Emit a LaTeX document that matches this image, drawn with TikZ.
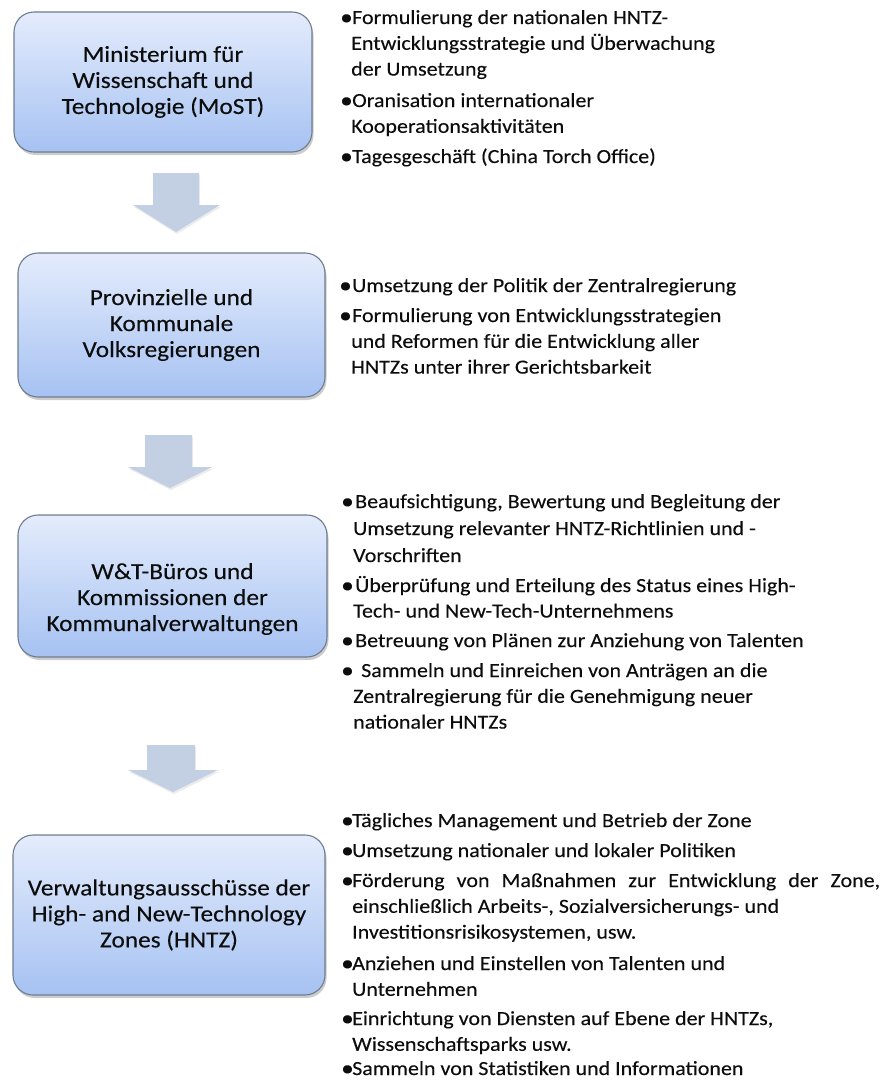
\documentclass[tikz,border=0pt]{standalone}
\usepackage{fontspec}
\setmainfont{Carlito}[FakeStretch=1.1,FakeBold=0.2]
\usetikzlibrary{shadows}
\definecolor{boxtop}{HTML}{E4ECFC}
\definecolor{boxbot}{HTML}{A6C2F2}
\definecolor{boxline}{HTML}{6F7C90}
\definecolor{arrowfill}{HTML}{C3D0E3}
\definecolor{txt}{HTML}{0D0D0D}
\tikzset{
  orgbox/.style={rounded corners=20pt, draw=boxline, line width=1.1pt,
    top color=boxtop, bottom color=boxbot,
    drop shadow={opacity=0.4, shadow xshift=1.5pt, shadow yshift=-3pt},
    align=center, text=txt, font=\fontsize{23}{26}\selectfont, inner sep=0pt},
  blockarrow/.style={fill=arrowfill, draw=none,
    drop shadow={opacity=0.15, shadow xshift=1pt, shadow yshift=-2pt}},
  item/.style={anchor=base west, inner sep=0pt, text=txt,
    font=\fontsize{20}{25.8}\selectfont},
}
\newcommand{\itm}[7][]{\node[item,#1] (#2) at (#3,#4)
  {\parbox[t]{530pt}{\raggedright\hspace*{\dimexpr#5-3pt\relax}\makebox[\dimexpr#6+3pt\relax][l]{\raisebox{-0.8pt}{\fontsize{23}{0}\selectfont\textbullet}}#7}};}
\begin{document}
\begin{tikzpicture}[x=1pt,y=-1pt]
\useasboundingbox (0,0) rectangle (885,1081);
% boxes
\node[orgbox, minimum width=298pt, minimum height=140pt] (b1) at (163,82)
  {Ministerium für\\Wissenschaft und\\Technologie (MoST)};
\node[orgbox, minimum width=307pt, minimum height=144pt] (b2) at (171.5,325)
  {Provinzielle und\\Kommunale\\Volksregierungen};
\node[orgbox, minimum width=309pt, minimum height=142pt] (b3) at (172.5,586) {};
\node[text=txt, font=\fontsize{23}{26}\selectfont, align=center, inner sep=0pt] (t3)
  at ([yshift=-13pt]b3.center)
  {W\&T-Büros und\\Kommissionen der\\Kommunalverwaltungen};
\node[orgbox, minimum width=312pt, minimum height=160pt] (b4) at (169,915)
  {Verwaltungsausschüsse der\\High- and New-Technology\\Zones (HNTZ)};
% block arrows
\fill[blockarrow] (153,173) -- (199,173) -- (199,205) -- (220,205) -- (176,232)
  -- (133,205) -- (153,205) -- cycle;
\fill[blockarrow] (145,435) -- (192,435) -- (192,467) -- (212,467) -- (170,488)
  -- (128,467) -- (145,467) -- cycle;
\fill[blockarrow] (147,745) -- (195,745) -- (195,770) -- (218,770) -- (173,792)
  -- (128,770) -- (147,770) -- cycle;
% group 1
\itm{g1a}{351}{24}{-8pt}{9pt}{Formulierung der nationalen HNTZ-\\Entwicklungsstrategie und Überwachung\\der Umsetzung}
\itm{g1b}{351}{107}{-8pt}{9pt}{Oranisation internationaler\\Kooperationsaktivitäten}
\itm{g1c}{351}{163}{-8pt}{9pt}{Tagesgeschäft (China Torch Office)}
% group 2
\itm{g2a}{351}{292}{-9pt}{10pt}{Umsetzung der Politik der Zentralregierung}
\itm{g2b}{351}{322}{-9pt}{10pt}{Formulierung von Entwicklungsstrategien\\und Reformen für die Entwicklung aller\\HNTZs unter ihrer Gerichtsbarkeit}
% group 3
\itm[font=\fontsize{20}{27}\selectfont]{g3a}{353}{508}{-9pt}{11pt}{Beaufsichtigung, Bewertung und Begleitung der\\Umsetzung relevanter HNTZ-Richtlinien und -\\Vorschriften}
\itm[font=\fontsize{20}{25.5}\selectfont]{g3b}{353}{592}{-9pt}{11pt}{Überprüfung und Erteilung des Status eines High-\\Tech- und New-Tech-Unternehmens}
\itm{g3c}{353}{647}{-9pt}{11pt}{Betreuung von Plänen zur Anziehung von Talenten}
\itm{g3d}{353}{677}{-9pt}{17pt}{Sammeln und Einreichen von Anträgen an die\\Zentralregierung für die Genehmigung neuer\\nationaler HNTZs}
% group 4
\itm{g4a}{352}{827}{-8pt}{8pt}{Tägliches Management und Betrieb der Zone}
\itm{g4b}{352}{857}{-8pt}{8pt}{Umsetzung nationaler und lokaler Politiken}
\itm{g4c}{352}{887}{-8pt}{8pt}{\makebox[528pt][s]{Förderung von Maßnahmen zur Entwicklung der Zone,}\\einschließlich Arbeits-, Sozialversicherungs- und\\Investitionsrisikosystemen, usw.}
\itm{g4d}{352}{970}{-8pt}{8pt}{Anziehen und Einstellen von Talenten und\\Unternehmen}
\itm{g4e}{352}{1025}{-8pt}{8pt}{Einrichtung von Diensten auf Ebene der HNTZs,\\Wissenschaftsparks usw.}
\itm{g4f}{352}{1075}{-8pt}{8pt}{Sammeln von Statistiken und Informationen}
\end{tikzpicture}
\end{document}
